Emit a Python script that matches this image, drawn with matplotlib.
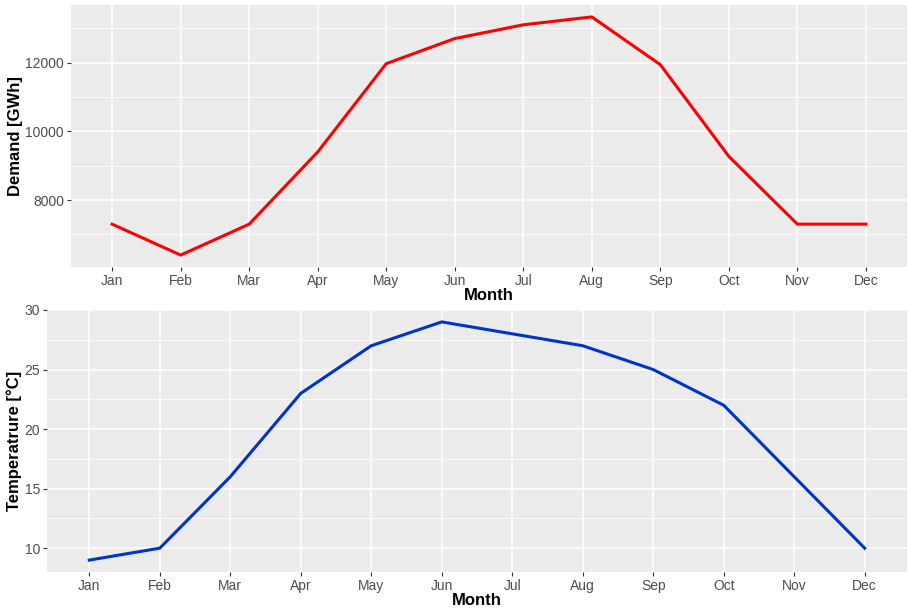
import matplotlib.pyplot as plt
from matplotlib.ticker import MultipleLocator

plt.rcParams['font.family'] = ['Liberation Sans', 'DejaVu Sans']

# ==========================
# Dados
# ==========================
meses = ["Jan", "Feb", "Mar", "Apr", "May", "Jun",
         "Jul", "Aug", "Sep", "Oct", "Nov", "Dec"]
demanda = [7300, 6400, 7300, 9400, 11970, 12700,
           13100, 13330, 11940, 9270, 7300, 7300]
temperatura = [9, 10, 16, 23, 27, 29, 28, 27, 25, 22, 16, 10]

fundo = "#EBEBEB"
cinza_tick = "#4D4D4D"


def estilo_ggplot(ax, ylabel, passo_maior, passo_menor):
    ax.set_facecolor(fundo)
    for s in ax.spines.values():
        s.set_visible(False)
    ax.set_xticks(range(len(meses)))
    ax.set_xticklabels(meses)
    ax.set_xlim(-0.6, len(meses) - 1 + 0.6)
    ax.yaxis.set_major_locator(MultipleLocator(passo_maior))
    ax.yaxis.set_minor_locator(MultipleLocator(passo_menor))
    ax.grid(True, which="major", color="white", linewidth=1.1)
    ax.grid(True, which="minor", axis="y", color="white", linewidth=0.55)
    ax.set_axisbelow(True)
    ax.tick_params(which="major", length=3, width=0.8, color="#333333",
                   labelcolor=cinza_tick, labelsize=10, pad=2)
    ax.tick_params(which="minor", length=0)
    ax.set_xlabel("Month", fontsize=12, fontweight="bold", labelpad=0)
    ax.set_ylabel(ylabel, fontsize=12, fontweight="bold", labelpad=2)


fig = plt.figure(figsize=(9.08, 6.08), dpi=100)

# painel de demanda
ax1 = fig.add_axes([71 / 908, 1 - 267 / 608, 836 / 908, 262 / 608])
ax1.plot(range(len(meses)), demanda, color="#FF0000", linewidth=2.2)
estilo_ggplot(ax1, "Demand [GWh]", 2000, 1000)
pad = (max(demanda) - min(demanda)) * 0.05
ax1.set_ylim(min(demanda) - pad, max(demanda) + pad)

# painel de temperatura
ax2 = fig.add_axes([47 / 908, 1 - 572 / 608, 860 / 908, 262 / 608])
ax2.plot(range(len(meses)), temperatura, color="#0033CC", linewidth=2.2)
estilo_ggplot(ax2, "Temperatrure [°C]", 5, 2.5)
pad = (max(temperatura) - min(temperatura)) * 0.05
ax2.set_ylim(min(temperatura) - pad, max(temperatura) + pad)

fig.savefig("out.png", dpi=100)
